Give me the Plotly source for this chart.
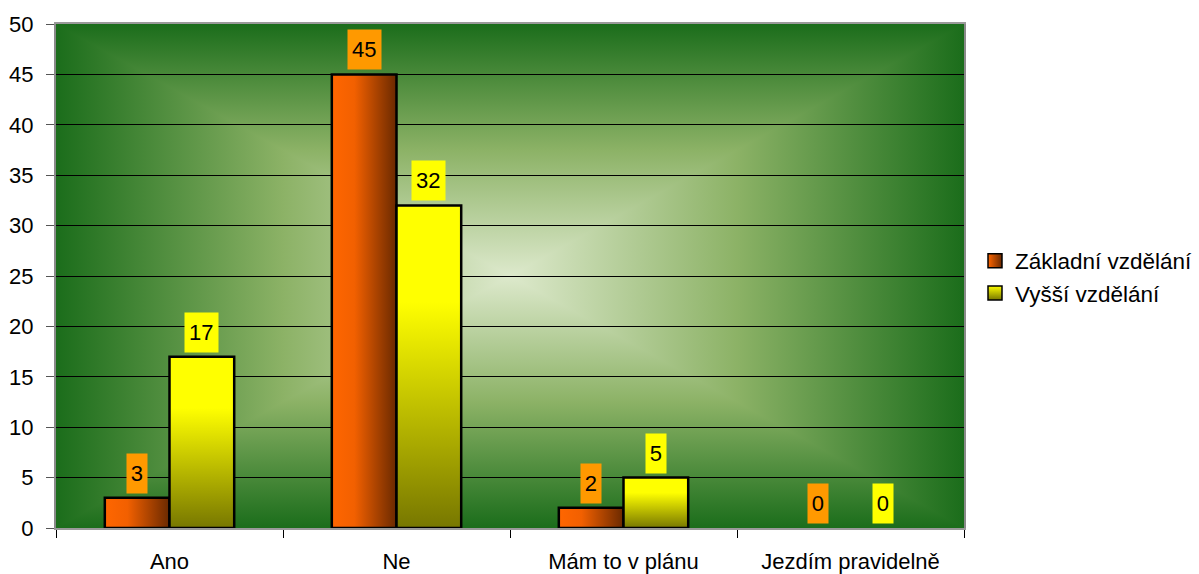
import base64
import plotly.graph_objects as go

# --- data ---------------------------------------------------------------
categories = ["Ano", "Ne", "Mám to v plánu", "Jezdím pravidelně"]
zakladni = [3, 45, 2, 0]
vyssi = [17, 32, 5, 0]
series_names = ["Základní vzdělání", "Vyšší vzdělání"]
y_ticks = list(range(0, 55, 5))

FONT = "Arial, Liberation Sans, sans-serif"
BAR_W = 0.285  # width of one bar in category units

ORANGE_SCALE = [[0, "#ff6600"], [0.35, "#f26000"], [1, "#6a2900"]]
YELLOW_SCALE = [[0, "#777700"], [0.7, "#ffff00"], [1, "#ffff00"]]
LABEL_BG = ["#ff9900", "#ffff00"]

# --- plot-area background: rectangular gradient from the centre -------
EDGE, MID, CENTER = "#1b6d1b", "#8cb266", "#dde9cc"


def grad(gid, x1, y1, x2, y2):
    return (
        f'<linearGradient id="{gid}" x1="{x1}" y1="{y1}" x2="{x2}" y2="{y2}">'
        f'<stop offset="0" stop-color="{EDGE}"/>'
        f'<stop offset="0.5" stop-color="{MID}"/>'
        f'<stop offset="1" stop-color="{CENTER}"/></linearGradient>'
    )


svg = (
    '<svg xmlns="http://www.w3.org/2000/svg" width="100" height="100" '
    'viewBox="0 0 100 100" preserveAspectRatio="none"><defs>'
    + grad("t", 0, 0, 0, 1)
    + grad("b", 0, 1, 0, 0)
    + grad("l", 0, 0, 1, 0)
    + grad("r", 1, 0, 0, 0)
    + "</defs>"
    '<g shape-rendering="crispEdges">'
    '<polygon points="0,0 100,0 50,50" fill="url(#t)"/>'
    '<polygon points="0,100 100,100 50,50" fill="url(#b)"/>'
    '<polygon points="0,0 0,100 50,50" fill="url(#l)"/>'
    '<polygon points="100,0 100,100 50,50" fill="url(#r)"/>'
    "</g></svg>"
)
bg_uri = "data:image/svg+xml;base64," + base64.b64encode(svg.encode()).decode()

fig = go.Figure()


def bar_outline(i, left_offset, value):
    x0 = i + left_offset
    x1 = x0 + BAR_W
    return [x0, x0, x1, x1, x0], [0, value, value, 0, 0]


series = [
    (zakladni, -BAR_W, dict(type="horizontal", colorscale=ORANGE_SCALE)),
    (vyssi, 0.0, dict(type="vertical", colorscale=YELLOW_SCALE)),
]

for s, (values, offset, fg) in enumerate(series):
    for i, v in enumerate(values):
        if v <= 0:
            continue
        xs, ys = bar_outline(i, offset, v)
        fig.add_trace(
            go.Scatter(
                x=xs,
                y=ys,
                mode="lines",
                fill="toself",
                fillgradient=fg,
                line=dict(color="black", width=2.5),
                legendgroup=series_names[s],
                showlegend=False,
                name=series_names[s],
                hoverinfo="skip",
            )
        )
    # value labels
    for i, v in enumerate(values):
        txt = str(v)
        fig.add_annotation(
            x=i + offset + BAR_W / 2,
            y=v,
            xref="x",
            yref="y",
            text=txt,
            showarrow=False,
            yanchor="bottom",
            yshift=4,
            bgcolor=LABEL_BG[s],
            borderpad=0,
            width=7 + 12.8 * len(txt),
            height=39,
            font=dict(family=FONT, size=22, color="black"),
        )

# legend entries
legend_marks = [
    dict(color="#ff6600", gradient=dict(type="horizontal", color="#6a2900")),
    dict(color="#ffff00", gradient=dict(type="vertical", color="#777700")),
]
for s, mk in enumerate(legend_marks):
    fig.add_trace(
        go.Scatter(
            x=[None],
            y=[None],
            mode="markers",
            name=series_names[s],
            legendgroup=series_names[s],
            marker=dict(symbol="square", size=14, line=dict(color="black", width=1.5), **mk),
        )
    )

fig.update_layout(
    width=1199,
    height=574,
    margin=dict(l=56, r=235, t=24, b=46),
    paper_bgcolor="white",
    plot_bgcolor="rgba(0,0,0,0)",
    font=dict(family=FONT, size=22, color="black"),
    images=[
        dict(
            source=bg_uri,
            xref="paper",
            yref="paper",
            x=0,
            y=1,
            sizex=1,
            sizey=1,
            sizing="stretch",
            xanchor="left",
            yanchor="top",
            layer="below",
        )
    ],
    showlegend=True,
    legend=dict(
        xref="container",
        yref="container",
        x=975 / 1199,
        y=1 - 277 / 574,
        xanchor="left",
        yanchor="middle",
        font=dict(family=FONT, size=22.5),
        tracegroupgap=0,
        bgcolor="rgba(0,0,0,0)",
    ),
    hovermode=False,
)

fig.update_xaxes(
    range=[-0.5, len(categories) - 0.5],
    tickmode="array",
    tickvals=list(range(len(categories))),
    ticktext=categories,
    ticks="outside",
    ticklen=13,
    tickcolor="rgba(0,0,0,0)",
    showgrid=False,
    zeroline=False,
    showline=True,
    linecolor="#9a9a9a",
    linewidth=2,
    mirror=True,
    automargin=False,
    minor=dict(
        tickmode="array",
        tickvals=[i - 0.5 for i in range(len(categories) + 1)],
        ticks="outside",
        ticklen=8,
        tickcolor="black",
        tickwidth=1,
        showgrid=False,
    ),
    fixedrange=True,
)

fig.update_yaxes(
    range=[0, 50],
    tickmode="array",
    tickvals=y_ticks,
    ticks="outside",
    ticklen=8,
    tickcolor="#555555",
    ticklabelstandoff=8,
    showgrid=True,
    gridcolor="black",
    gridwidth=1.3,
    zeroline=False,
    showline=True,
    linecolor="#8a8a8a",
    linewidth=2,
    mirror=True,
    automargin=False,
    fixedrange=True,
)

fig.write_html("out.html")
